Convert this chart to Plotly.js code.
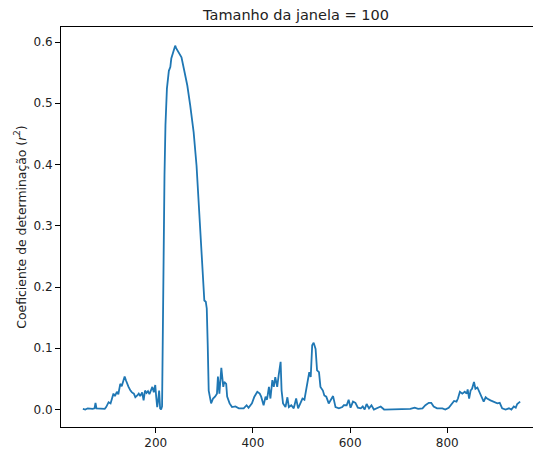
<!DOCTYPE html>
<html>
<head>
<meta charset="utf-8">
<script src="https://cdn.plot.ly/plotly-3.0.1.min.js"></script>
<style>
html,body{margin:0;padding:0;overflow:hidden;background:#fff;}
#chart{width:562px;height:450px;}
</style>
</head>
<body>
<div id="chart"></div>
<script>
// Window centre position (x) and coefficient of determination r^2 (y)
var xs = [50,55,60,65,70,74,76,78,82,86,90,95,98,103,107,110,113,116,120,123,127,130,133,136,139,141,144,148,151,155,158,162,165,168,172,175,178,181,184,187,190,193,196,199,201,203,205,207,209,211,213,214,216,218,220,223,227,230,232,237,240,242,244,249,253,258,265,271,278,284,288,293,297,300,303,305,307,309,314,318,322,326,328,331,335,339,341,345,347,352,357,364,371,381,387,391,398,403,409,414,417,422,426,429,433,436,440,443,446,450,453,457,459,462,467,471,474,479,484,489,493,498,502,506,510,513,516,519,522,525,529,532,536,539,544,547,551,556,560,565,570,577,584,587,593,597,601,606,611,616,622,626,630,634,639,644,649,656,663,670,683,697,711,724,733,740,749,755,762,767,772,779,790,796,803,810,814,819,822,826,831,836,840,842,845,848,851,855,858,862,865,868,872,875,879,882,889,896,903,908,913,920,927,932,937,941,944,950];
var r2 = [0.001,0.000,0.002,0.001,0.001,0.002,0.011,0.002,0.002,0.001,0.002,0.001,0.004,0.012,0.010,0.020,0.026,0.022,0.029,0.025,0.042,0.038,0.046,0.054,0.047,0.042,0.037,0.031,0.028,0.026,0.020,0.023,0.026,0.022,0.028,0.015,0.031,0.027,0.030,0.025,0.033,0.037,0.028,0.040,0.020,0.004,0.015,0.031,0.002,0.000,0.005,0.110,0.246,0.382,0.464,0.524,0.553,0.559,0.573,0.587,0.594,0.590,0.587,0.579,0.575,0.556,0.529,0.496,0.453,0.398,0.344,0.279,0.224,0.178,0.176,0.165,0.105,0.031,0.010,0.018,0.021,0.026,0.054,0.026,0.068,0.037,0.045,0.042,0.021,0.010,0.004,0.005,0.002,0.002,0.007,0.003,0.010,0.021,0.029,0.026,0.021,0.007,0.021,0.016,0.037,0.018,0.048,0.037,0.053,0.037,0.056,0.078,0.031,0.010,0.004,0.020,0.004,0.007,0.002,0.018,0.002,0.010,0.018,0.016,0.037,0.048,0.061,0.053,0.105,0.109,0.099,0.064,0.061,0.037,0.031,0.023,0.021,0.010,0.016,0.022,0.004,0.002,0.004,0.007,0.007,0.016,0.003,0.013,0.011,0.003,0.002,0.005,0.000,0.009,0.002,0.007,0.000,0.002,0.005,0.000,0.000,0.000,0.000,0.001,0.003,0.001,0.002,0.007,0.011,0.011,0.005,0.002,0.002,0.000,0.003,0.011,0.014,0.013,0.018,0.029,0.026,0.029,0.026,0.033,0.018,0.031,0.034,0.045,0.034,0.036,0.031,0.026,0.020,0.013,0.020,0.018,0.015,0.013,0.010,0.011,0.002,0.000,0.002,0.000,0.005,0.003,0.009,0.013];

var titleText = 'Tamanho da janela = 100';
var yLabel = 'Coeficiente de determinação (<i>r</i><sup>2</sup>)';

var FONT = 'DejaVu Sans, Liberation Sans, sans-serif';

var trace = {
  x: xs, y: r2, type: 'scatter', mode: 'lines',
  line: {color: '#1f77b4', width: 1.8},
  hoverinfo: 'skip'
};

var axisCommon = {
  showline: true, mirror: true, linecolor: '#000', linewidth: 1,
  ticks: 'outside', ticklen: 5, tickwidth: 1, tickcolor: '#000',
  showgrid: false, zeroline: false,
  tickfont: {family: FONT, size: 12, color: '#222'}
};

var layout = {
  width: 562, height: 450,
  margin: {l: 61, r: 20, t: 27, b: 23, pad: 0},
  paper_bgcolor: '#fff', plot_bgcolor: '#fff',
  showlegend: false,
  font: {family: FONT, color: '#222'},
  title: {text: titleText, font: {family: FONT, size: 14.5, color: '#222'},
          x: 296/562, xref: 'container', xanchor: 'center', y: 1 - 14.5/450, yanchor: 'middle', yref: 'container'},
  xaxis: Object.assign({}, axisCommon, {range: [5, 995], tick0: 0, dtick: 200}),
  yaxis: Object.assign({}, axisCommon, {range: [-0.0285, 0.6245], tick0: 0, dtick: 0.1, tickformat: '.1f',
    title: {text: yLabel, font: {family: FONT, size: 12.4, color: '#222'}, standoff: 4}})
};

Plotly.newPlot('chart', [trace], layout, {staticPlot: true, displayModeBar: false});
</script>
</body>
</html>
